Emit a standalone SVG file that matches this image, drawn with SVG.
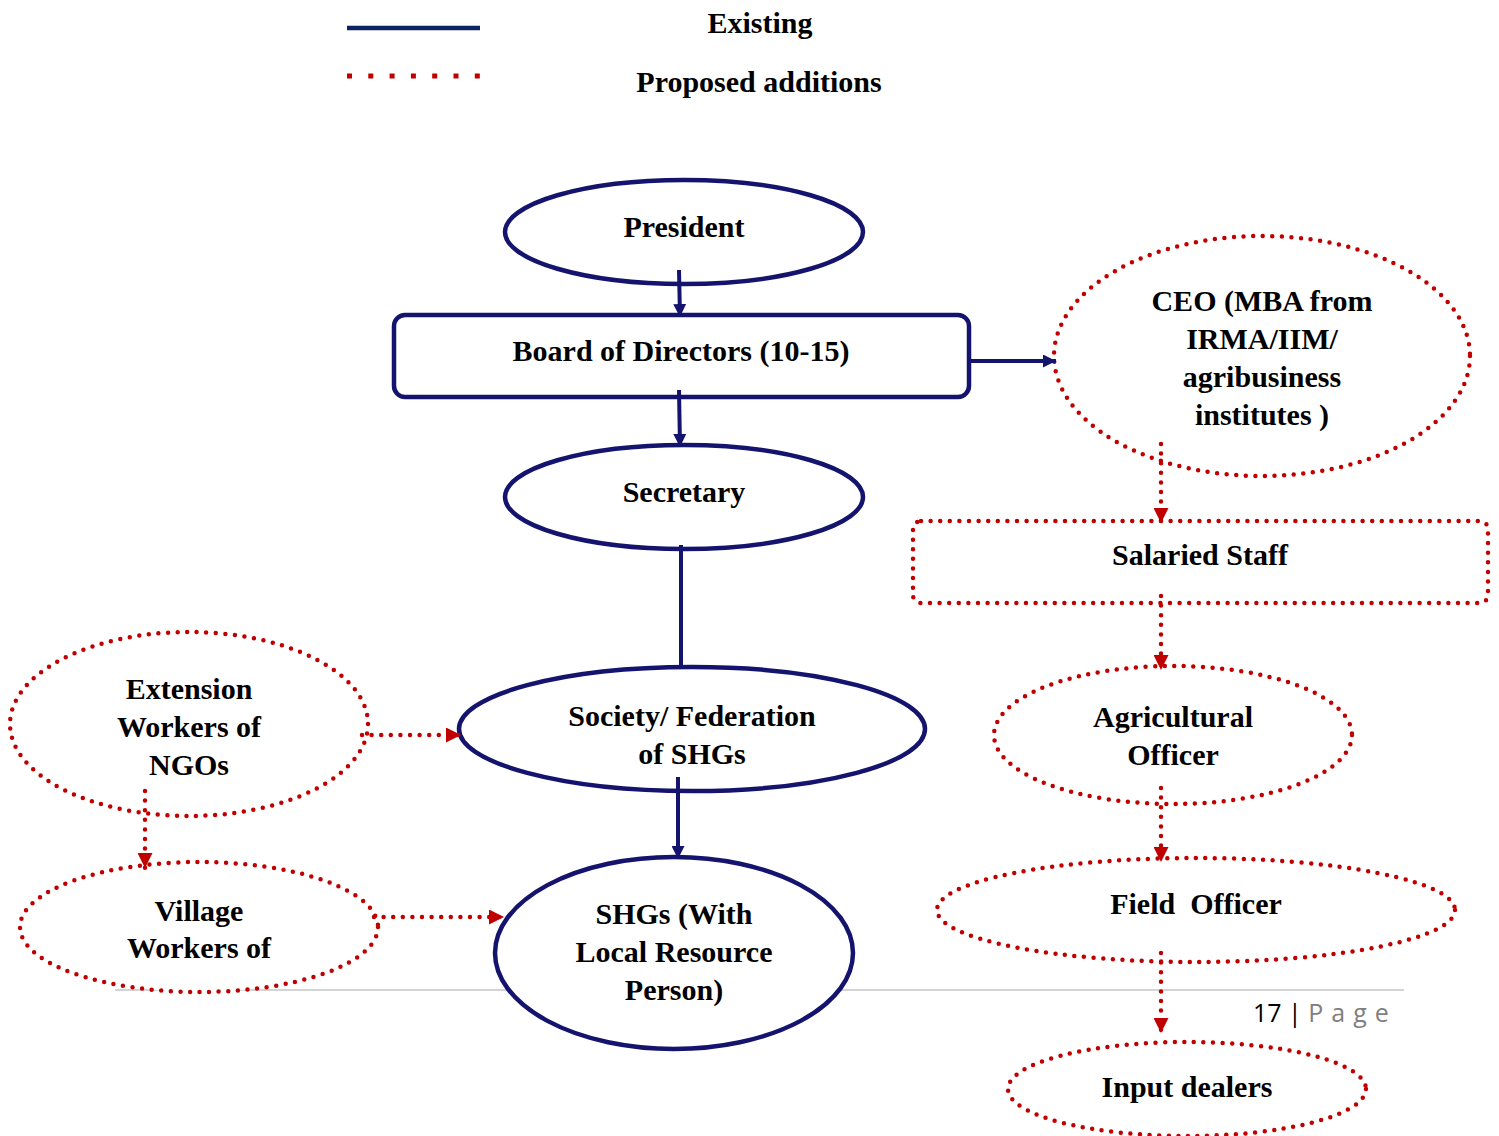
<svg xmlns="http://www.w3.org/2000/svg" width="1499" height="1136" viewBox="0 0 1499 1136">
<style>
.t{font-family:"Liberation Serif","Times New Roman",serif;font-weight:bold;font-size:30px;fill:#000;text-anchor:middle}
.ex{fill:#fff;stroke:#14146e;stroke-width:4.5}
.pr{fill:#fff;stroke:#c00000;stroke-width:4.5;stroke-dasharray:0 9.6;stroke-linecap:round}
.ce{fill:none;stroke:#14146e;stroke-width:4}
.cp{fill:none;stroke:#c00000;stroke-width:4.5;stroke-dasharray:0 9.6;stroke-linecap:round}
</style>
<defs>
<marker id="an" viewBox="0 0 10 10" refX="10" refY="5" markerWidth="13" markerHeight="13" markerUnits="userSpaceOnUse" orient="auto"><path d="M0,0L10,5L0,10z" fill="#14146e"/></marker>
<marker id="ar" viewBox="0 0 10 10" refX="10" refY="5" markerWidth="15" markerHeight="15" markerUnits="userSpaceOnUse" orient="auto"><path d="M0,0L10,5L0,10z" fill="#c00000"/></marker>
</defs>
<rect width="1499" height="1136" fill="#fff"/>
<g id="legend">
<line x1="347" y1="28" x2="480" y2="28" stroke="#0b2364" stroke-width="4.5"/>
<line x1="347" y1="76" x2="481" y2="76" stroke="#c00000" stroke-width="5" stroke-dasharray="5 16.3"/>
<text class="t" x="760" y="33">Existing</text>
<text class="t" x="759" y="92">Proposed additions</text>
</g>
<g id="footer">
<line x1="115" y1="990" x2="1404" y2="990" stroke="#d4d4d4" stroke-width="2"/>
<text x="1253" y="1022" font-family="'Open Sans','Noto Sans',sans-serif" font-size="25" fill="#000">17 | <tspan fill="#7f7f7f" letter-spacing="8">Page</tspan></text>
</g>
<g id="n-president"><ellipse class="ex" cx="684" cy="232" rx="179" ry="52"/><text class="t" x="684" y="237">President</text></g>
<g id="n-board"><rect class="ex" x="394" y="315" width="575" height="82" rx="11"/><text class="t" x="681" y="361">Board of Directors (10-15)</text></g>
<g id="n-secretary"><ellipse class="ex" cx="684" cy="497" rx="179" ry="52"/><text class="t" x="684" y="502">Secretary</text></g>
<g id="n-society"><ellipse class="ex" cx="692" cy="729" rx="233" ry="62"/><text class="t" x="692" y="726">Society/ Federation</text><text class="t" x="692" y="764">of SHGs</text></g>
<g id="n-shgs"><ellipse class="ex" cx="674" cy="953" rx="179" ry="96"/><text class="t" x="674" y="924">SHGs (With</text><text class="t" x="674" y="962">Local Resource</text><text class="t" x="674" y="1000">Person)</text></g>
<g id="n-ceo"><ellipse class="pr" cx="1262" cy="356" rx="208" ry="120"/><text class="t" x="1262" y="311">CEO (MBA from</text><text class="t" x="1262" y="349">IRMA/IIM/</text><text class="t" x="1262" y="387">agribusiness</text><text class="t" x="1262" y="425">institutes )</text></g>
<g id="n-salaried"><rect class="pr" x="913" y="521" width="575" height="82" rx="8"/><text class="t" x="1200" y="565">Salaried Staff</text></g>
<g id="n-agri"><ellipse class="pr" cx="1173" cy="735" rx="179" ry="69"/><text class="t" x="1173" y="727">Agricultural</text><text class="t" x="1173" y="765">Officer</text></g>
<g id="n-field"><ellipse class="pr" cx="1196" cy="910" rx="259" ry="52"/><text class="t" x="1196" y="914" style="white-space:pre">Field  Officer</text></g>
<g id="n-input"><ellipse class="pr" cx="1187" cy="1089" rx="179" ry="47"/><text class="t" x="1187" y="1097">Input dealers</text></g>
<g id="n-extension"><ellipse class="pr" cx="189" cy="724" rx="179" ry="92"/><text class="t" x="189" y="699">Extension</text><text class="t" x="189" y="737">Workers of</text><text class="t" x="189" y="775">NGOs</text></g>
<g id="n-village"><ellipse class="pr" cx="199" cy="927" rx="179" ry="65"/><text class="t" x="199" y="921">Village</text><text class="t" x="199" y="958">Workers of</text></g>
<g id="connectors">
<line class="ce" x1="679" y1="270" x2="680" y2="317" marker-end="url(#an)"/>
<line class="ce" x1="679" y1="390" x2="680" y2="447" marker-end="url(#an)"/>
<line class="ce" x1="969" y1="361" x2="1056" y2="361" marker-end="url(#an)"/>
<line class="ce" x1="681" y1="545" x2="681" y2="667"/>
<line class="ce" x1="678" y1="777" x2="678" y2="859" marker-end="url(#an)"/>
<line class="cp" x1="1161" y1="444" x2="1161" y2="523" marker-end="url(#ar)"/>
<line class="cp" x1="1161" y1="596" x2="1161" y2="670" marker-end="url(#ar)"/>
<line class="cp" x1="1161" y1="788" x2="1161" y2="862" marker-end="url(#ar)"/>
<line class="cp" x1="1161" y1="953" x2="1161" y2="1033" marker-end="url(#ar)"/>
<line class="cp" x1="362" y1="735" x2="461" y2="735" marker-end="url(#ar)"/>
<line class="cp" x1="145" y1="791" x2="145" y2="868" marker-end="url(#ar)"/>
<line class="cp" x1="374" y1="917" x2="504" y2="917" marker-end="url(#ar)"/>
</g>
</svg>
